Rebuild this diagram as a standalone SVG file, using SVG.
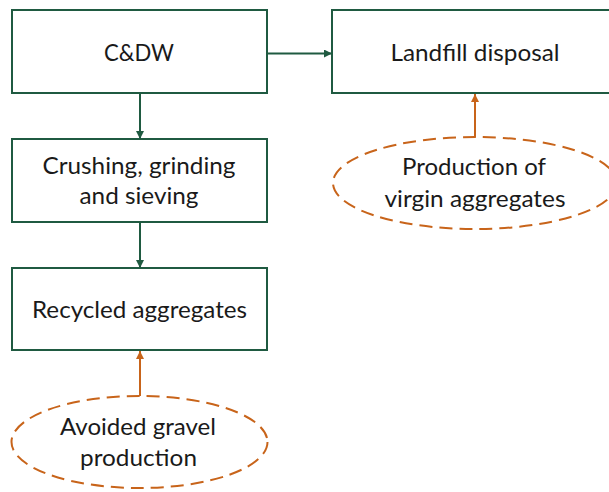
<svg xmlns="http://www.w3.org/2000/svg" width="609" height="492" viewBox="0 0 609 492">
<style>
.box{fill:#ffffff;stroke:#1f5a41;stroke-width:2}
.ell{fill:#ffffff;stroke:#c8641a;stroke-width:2;stroke-dasharray:13 7}
.t{font-family:Lato,"Liberation Sans",sans-serif;font-size:24px;fill:#1a1a1a;text-anchor:middle}
.g{stroke:#1f5a41;stroke-width:2;fill:none}
.o{stroke:#c8641a;stroke-width:2;fill:none}
</style>
<defs>
<marker id="ag" viewBox="0 0 10 10" refX="10" refY="5" markerWidth="4" markerHeight="4" orient="auto" markerUnits="strokeWidth"><path d="M0,0 L10,5 L0,10 z" fill="#1f5a41"/></marker>
<marker id="ao" viewBox="0 0 10 10" refX="10" refY="5" markerWidth="4" markerHeight="4" orient="auto" markerUnits="strokeWidth"><path d="M0,0 L10,5 L0,10 z" fill="#c8641a"/></marker>
</defs>
<rect width="609" height="492" fill="#ffffff"/>
<g id="cdw"><rect class="box" x="12" y="10" width="255" height="83"/><text class="t" x="139" y="61" textLength="70" lengthAdjust="spacingAndGlyphs">C&amp;DW</text></g>
<g id="landfill"><rect class="box" x="332" y="10" width="290" height="83"/><text class="t" x="475" y="61" textLength="169" lengthAdjust="spacingAndGlyphs">Landfill disposal</text></g>
<g id="crushing"><rect class="box" x="12" y="139" width="255" height="83"/><text class="t" x="139" y="174" textLength="193" lengthAdjust="spacingAndGlyphs">Crushing, grinding</text><text class="t" x="139" y="204" textLength="119" lengthAdjust="spacingAndGlyphs">and sieving</text></g>
<g id="recycled"><rect class="box" x="12" y="268" width="255" height="82"/><text class="t" x="139.5" y="318" textLength="215" lengthAdjust="spacingAndGlyphs">Recycled aggregates</text></g>
<g id="virgin"><ellipse class="ell" cx="475" cy="183" rx="142" ry="46"/><text class="t" x="474" y="175" textLength="144" lengthAdjust="spacingAndGlyphs">Production of</text><text class="t" x="475" y="207" textLength="181" lengthAdjust="spacingAndGlyphs">virgin aggregates</text></g>
<g id="avoided"><ellipse class="ell" cx="139.5" cy="442" rx="128" ry="46"/><text class="t" x="138" y="435" textLength="156" lengthAdjust="spacingAndGlyphs">Avoided gravel</text><text class="t" x="138.5" y="466" textLength="117" lengthAdjust="spacingAndGlyphs">production</text></g>
<g id="connectors">
<line class="g" x1="267" y1="53.5" x2="332" y2="53.5" marker-end="url(#ag)"/>
<line class="g" x1="140" y1="93" x2="140" y2="139" marker-end="url(#ag)"/>
<line class="g" x1="140" y1="222" x2="140" y2="268" marker-end="url(#ag)"/>
<line class="o" x1="140" y1="396" x2="140" y2="351" marker-end="url(#ao)"/>
<line class="o" x1="475" y1="137" x2="475" y2="94" marker-end="url(#ao)"/>
</g>
</svg>
